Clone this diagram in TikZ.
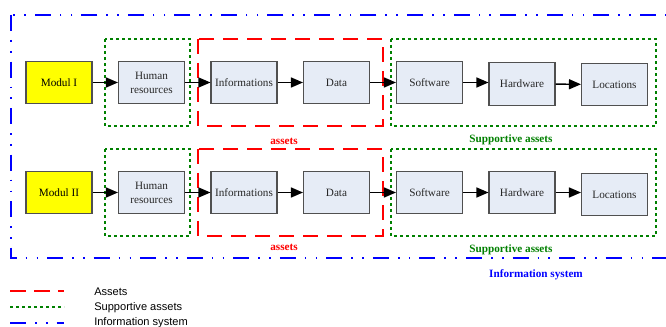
\documentclass[tikz,border=0pt]{standalone}
\usepackage{fontspec}
\setmainfont{Liberation Serif}
\newfontfamily\legendfont{Liberation Sans}
\usetikzlibrary{arrows.meta}
\definecolor{boxfill}{RGB}{230,236,246}
\definecolor{boxline}{RGB}{80,80,80}
\definecolor{modyellow}{RGB}{255,255,0}
\definecolor{grn}{RGB}{0,128,0}
\definecolor{rd}{RGB}{255,0,0}
\definecolor{bl}{RGB}{0,0,255}
\definecolor{txt}{RGB}{40,40,40}
\tikzset{
  blockbox/.style={draw=boxline, line width=0.8pt, fill=boxfill, minimum width=49.5pt, minimum height=32pt, inner sep=1pt, align=center, text=txt, font=\fontsize{8.4}{10.5}\selectfont},
  modbox/.style={blockbox, fill=modyellow, text=black},
  flow/.style={line width=1.1pt, -{Triangle[length=9pt,width=7.5pt]}},
  assetline/.style={draw=rd, line width=1.5pt, dash pattern=on 11pt off 7pt},
  suppline/.style={draw=grn, line width=1.5pt, dash pattern=on 2.2pt off 2.3pt},
  infoline/.style={draw=bl, line width=1.5pt, dash pattern=on 12pt off 6.75pt on 1.2pt off 7pt on 1.2pt off 6.75pt},
  grouplabel/.style={font=\bfseries\fontsize{8.4}{10}\selectfont},
  legendtext/.style={anchor=west, font=\legendfont\fontsize{8.3}{10}\selectfont, text=black, inner sep=0pt}
}
\begin{document}
\begin{tikzpicture}[x=0.75pt,y=-0.75pt]
\useasboundingbox (0,0) rectangle (666,327);
% information system frame
\draw[infoline] (11,15) rectangle (672,258);
% group frames row 1
\draw[suppline] (105,39) rectangle (190,126);
\draw[assetline] (198,39) rectangle (383,126);
\draw[suppline] (391,39) rectangle (656,126);
% group frames row 2
\draw[suppline] (105,149) rectangle (190,236);
\draw[assetline] (198,149) rectangle (383,236);
\draw[suppline] (391,149) rectangle (656,236);
% row 1
\node[modbox] (m1) at (59,82.5) {Modul I};
\node[blockbox] (h1) at (151.5,82.5) {Human\\resources};
\node[blockbox] (i1) at (244,82.5) {Informations};
\node[blockbox] (d1) at (336.5,82.5) {Data};
\node[blockbox] (s1) at (429.5,82.5) {Software};
\node[blockbox] (w1) at (522,84) {Hardware};
\node[blockbox] (l1) at (614.5,84.5) {Locations};
% row 2
\node[modbox] (m2) at (59,192.5) {Modul II};
\node[blockbox] (h2) at (151.5,192.5) {Human\\resources};
\node[blockbox] (i2) at (244,192.5) {Informations};
\node[blockbox] (d2) at (336.5,192.5) {Data};
\node[blockbox] (s2) at (429.5,192.5) {Software};
\node[blockbox] (w2) at (522,192.5) {Hardware};
\node[blockbox] (l2) at (614.5,194.5) {Locations};
% arrows
\draw[flow] (m1) -- (h1);
\draw[flow] (h1) -- (i1);
\draw[flow] (i1) -- (d1);
\draw[flow] (d1) -- (s1);
\draw[flow] (s1.east) -- (s1.east -| w1.west);
\draw[flow] (w1) -- (l1);
\draw[flow] (m2) -- (h2);
\draw[flow] (h2) -- (i2);
\draw[flow] (i2) -- (d2);
\draw[flow] (d2) -- (s2);
\draw[flow] (s2) -- (w2);
\draw[flow] (w2.east) -- (w2.east -| l2.west);
% group labels
\node[grouplabel, text=rd] (a1) at (284,141) {assets};
\node[grouplabel, text=grn] (sa1) at (511,140) {Supportive assets};
\node[grouplabel, text=rd] (a2) at (284,247) {assets};
\node[grouplabel, text=grn] (sa2) at (511,250) {Supportive assets};
\node[grouplabel, text=bl] (is) at (536,275) {Information system};
% legend
\coordinate (la1) at (10,291); \coordinate (la2) at (64,291);
\coordinate (lb1) at (10,307); \coordinate (lb2) at (64,307);
\coordinate (lc1) at (10,323); \coordinate (lc2) at (64,323);
\draw[assetline, dash pattern=on 12pt off 6pt] (la1) -- (la2);
\draw[suppline] (lb1) -- (lb2);
\draw[infoline] (lc1) -- (lc2);
\node[legendtext] (ta) at (94,291.5) {Assets};
\node[legendtext] (tb) at (94,307.5) {Supportive assets};
\node[legendtext] (tc) at (94,322.5) {Information system};
\end{tikzpicture}
\end{document}
